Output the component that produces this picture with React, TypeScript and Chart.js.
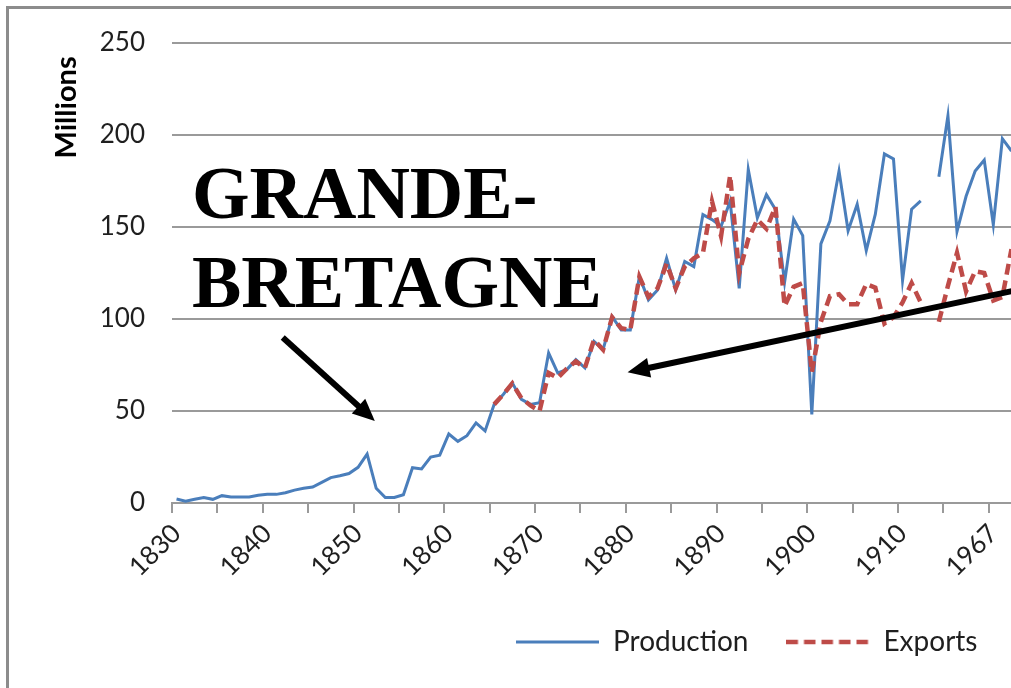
import React, { useEffect, useRef } from 'react';
import { Chart, registerables } from 'chart.js';

Chart.register(...registerables);

// Categories: yearly 1830-1913, then the series jumps to 1961-1969
const years: number[] = [
  1830, 1831, 1832, 1833, 1834, 1835, 1836, 1837, 1838, 1839,
  1840, 1841, 1842, 1843, 1844, 1845, 1846, 1847, 1848, 1849,
  1850, 1851, 1852, 1853, 1854, 1855, 1856, 1857, 1858, 1859,
  1860, 1861, 1862, 1863, 1864, 1865, 1866, 1867, 1868, 1869,
  1870, 1871, 1872, 1873, 1874, 1875, 1876, 1877, 1878, 1879,
  1880, 1881, 1882, 1883, 1884, 1885, 1886, 1887, 1888, 1889,
  1890, 1891, 1892, 1893, 1894, 1895, 1896, 1897, 1898, 1899,
  1900, 1901, 1902, 1903, 1904, 1905, 1906, 1907, 1908, 1909,
  1910, 1911, 1912, 1913,
  1961, 1962, 1963, 1964, 1965, 1966, 1967, 1968, 1969,
];

// Millions
const production: (number | null)[] = [
  2.2, 1, 2, 3, 2, 4, 3.3, 3.3, 3.3, 4.2,
  4.7, 4.7, 5.6, 7, 8, 8.7, 11.2, 13.8, 14.8, 16,
  19.4, 26.6, 8, 3, 3, 4.5, 19.2, 18.5, 25, 26,
  37.5, 33.5, 36.6, 43.5, 39.2, 53.6, 59, 65.3, 56.3, 53.6,
  54.5, 81.5, 70.7, 72.5, 77.9, 73.4, 87.8, 83.3, 101.3, 94,
  94, 123, 110.4, 115.8, 133, 115.8, 131.3, 128.5, 156.7, 154,
  150.4, 164, 116.7, 181.3, 155, 167.6, 159.5, 120, 154.3, 145.3,
  48.2, 140.8, 153.4, 180.4, 148, 162.4, 137.2, 157, 189.7, 187,
  121, 159.7, 164.2, null,
  177.3, 210.4, 147.6, 166.7, 180.4, 186.4, 151.3, 198, 191.3,
];

const exportsData: (number | null)[] = [
  null, null, null, null, null, null, null, null, null, null,
  null, null, null, null, null, null, null, null, null, null,
  null, null, null, null, null, null, null, null, null, null,
  null, null, null, null, null, 53.6, 59, 65, 57, 53,
  50, 70.7, 68, 73, 77, 73.4, 88.7, 83.3, 101, 95,
  94, 123, 112, 116.7, 130, 116.7, 128.5, 133, 135.8, 164,
  145, 178, 125, 143.5, 154, 149, 161, 107, 117.5, 119.5,
  71, 98.5, 112.5, 113.5, 108, 108, 119, 117, 97.5, 101,
  109, 119.5, 109, null,
  98.5, 118, 136, 115, 126, 125, 110, 112, 138,
];

const yMin = 0;
const yMax = 250;
const yStep = 50;
const labelInterval = 10;
const tickMarkInterval = 5;
const yAxisTitle = 'Millions';

// Annotation positions in data units: [category index, value]
const titleLines = ['GRANDE-', 'BRETAGNE'];
const titleAnchors: [number, number][] = [[1.7, 155.1], [1.7, 106.3]];
const arrows: { from: [number, number]; to: [number, number] }[] = [
  { from: [11.7, 89.9], to: [21.85, 44.6] },
  { from: [93.5, 116.7], to: [49.7, 71.0] },
];
const yTitleCenterValue = 215;

const BLUE = '#4A7EBB';
const RED = '#BE4B48';
const GRID = '#9a9a9a';
const TEXT = '#1f1f1f';

const SWATCH_W = 83;

function makeSwatch(color: string, width: number, dash: number[]): HTMLCanvasElement {
  const c = document.createElement('canvas');
  c.width = SWATCH_W;
  c.height = 8;
  const g = c.getContext('2d')!;
  g.strokeStyle = color;
  g.lineWidth = width;
  g.setLineDash(dash);
  g.beginPath();
  g.moveTo(0, 4);
  g.lineTo(SWATCH_W, 4);
  g.stroke();
  return c;
}

const annotationPlugin = {
  id: 'gbAnnotations',
  beforeDraw(chart: any) {
    const lg = chart.legend;
    if (lg) {
      const w = lg.right - lg.left;
      lg.left = chart.chartArea.left + 306;
      lg.right = lg.left + w;
    }
  },
  afterDraw(chart: any) {
    const { ctx, scales } = chart;
    const y = scales.y;
    ctx.save();
    ctx.fillStyle = '#000';
    ctx.font = 'bold 29px Lato';
    ctx.textAlign = 'center';
    ctx.textBaseline = 'middle';
    ctx.translate(chart.chartArea.left - 105, y.getPixelForValue(yTitleCenterValue));
    ctx.rotate(-Math.PI / 2);
    ctx.fillText(yAxisTitle, 0, 0);
    ctx.restore();
  },
  afterDatasetsDraw(chart: any) {
    const { ctx, scales } = chart;
    const x = scales.x;
    const y = scales.y;
    ctx.save();
    ctx.fillStyle = '#000';
    ctx.font = 'bold 74px "Liberation Serif"';
    ctx.textAlign = 'left';
    ctx.textBaseline = 'alphabetic';
    titleLines.forEach((t, k) => {
      const [i, v] = titleAnchors[k];
      ctx.fillText(t, x.getPixelForValue(i), y.getPixelForValue(v));
    });
    arrows.forEach((a) => {
      const x0 = x.getPixelForValue(a.from[0]);
      const y0 = y.getPixelForValue(a.from[1]);
      const x1 = x.getPixelForValue(a.to[0]);
      const y1 = y.getPixelForValue(a.to[1]);
      const ang = Math.atan2(y1 - y0, x1 - x0);
      const headLen = 22;
      const headHalf = 10;
      const bx = x1 - Math.cos(ang) * headLen;
      const by = y1 - Math.sin(ang) * headLen;
      ctx.strokeStyle = '#000';
      ctx.lineWidth = 6;
      ctx.lineCap = 'butt';
      ctx.beginPath();
      ctx.moveTo(x0, y0);
      ctx.lineTo(bx + Math.cos(ang) * 2, by + Math.sin(ang) * 2);
      ctx.stroke();
      ctx.beginPath();
      ctx.moveTo(x1, y1);
      ctx.lineTo(bx + Math.sin(ang) * headHalf, by - Math.cos(ang) * headHalf);
      ctx.lineTo(bx - Math.sin(ang) * headHalf, by + Math.cos(ang) * headHalf);
      ctx.closePath();
      ctx.fill();
    });
    ctx.restore();
  },
};

export default function App() {
  const canvasRef = useRef<HTMLCanvasElement | null>(null);

  useEffect(() => {
    if (!canvasRef.current) return;
    const swatches = [
      makeSwatch(BLUE, 3, []),
      makeSwatch(RED, 4.5, [11.5, 6]),
    ];
    const chart = new Chart(canvasRef.current, {
      type: 'line',
      data: {
        labels: years.map(String),
        datasets: [
          {
            label: 'Production',
            data: production,
            borderColor: BLUE,
            backgroundColor: BLUE,
            borderWidth: 3,
            pointRadius: 0,
            tension: 0,
            spanGaps: false,
            order: 2,
          },
          {
            label: 'Exports',
            data: exportsData,
            borderColor: RED,
            backgroundColor: RED,
            borderWidth: 4.5,
            borderDash: [11, 6],
            pointRadius: 0,
            tension: 0,
            spanGaps: false,
            order: 1,
          },
        ],
      },
      options: {
        responsive: false,
        animation: false,
        events: [],
        layout: { padding: { top: 43, left: 0, right: 0, bottom: 22 } },
        plugins: {
          tooltip: { enabled: false },
          legend: {
            position: 'bottom',
            align: 'start',
            labels: {
              usePointStyle: true,
              pointStyleWidth: SWATCH_W,
              boxHeight: 10,
              padding: 38,
              color: TEXT,
              font: { family: 'Lato', size: 28 },
              sort: (a: any, b: any) => a.datasetIndex - b.datasetIndex,
              generateLabels: (ch: any) => {
                const items = (Chart.defaults as any).plugins.legend.labels.generateLabels(ch);
                items.forEach((it: any) => {
                  it.pointStyle = swatches[it.datasetIndex];
                });
                return items;
              },
            },
          },
        },
        scales: {
          x: {
            type: 'category',
            offset: true,
            grid: {
              offset: true,
              drawOnChartArea: false,
              drawTicks: true,
              tickLength: 10,
              lineWidth: 2,
              color: (c: any) => (c.index % tickMarkInterval === 0 ? GRID : 'rgba(0,0,0,0)'),
            },
            border: { display: true, color: GRID, width: 2 },
            ticks: {
              autoSkip: false,
              minRotation: 45,
              maxRotation: 45,
              padding: 5,
              color: TEXT,
              font: { family: 'Lato', size: 26 },
              callback: (_v: any, index: number) => (index % labelInterval === 0 ? String(years[index]) : ''),
            },
            afterFit: (s: any) => {
              s.height = 87;
              s.paddingLeft = 0;
              s.paddingRight = 0;
            },
          },
          y: {
            min: yMin,
            max: yMax,
            grid: { color: GRID, lineWidth: 2, drawTicks: false },
            border: { display: false },
            ticks: {
              stepSize: yStep,
              padding: 27,
              color: TEXT,
              font: { family: 'Lato', size: 26 },
            },
            afterFit: (s: any) => {
              s.width = 172;
            },
          },
        },
      },
      plugins: [annotationPlugin],
    });
    return () => chart.destroy();
  }, []);

  return (
    <div
      style={{
        position: 'fixed',
        left: 0,
        top: 0,
        width: 1011,
        height: 688,
        overflow: 'hidden',
        background: '#fff',
      }}
    >
      <div
        style={{
          position: 'absolute',
          left: 6,
          top: 6,
          width: 1100,
          height: 800,
          borderLeft: '3px solid #8c8c8c',
          borderTop: '3px solid #8c8c8c',
          boxSizing: 'border-box',
        }}
      />
      <canvas
        ref={canvasRef}
        width={1016}
        height={688}
        style={{ position: 'absolute', left: 0, top: 0 }}
      />
    </div>
  );
}
